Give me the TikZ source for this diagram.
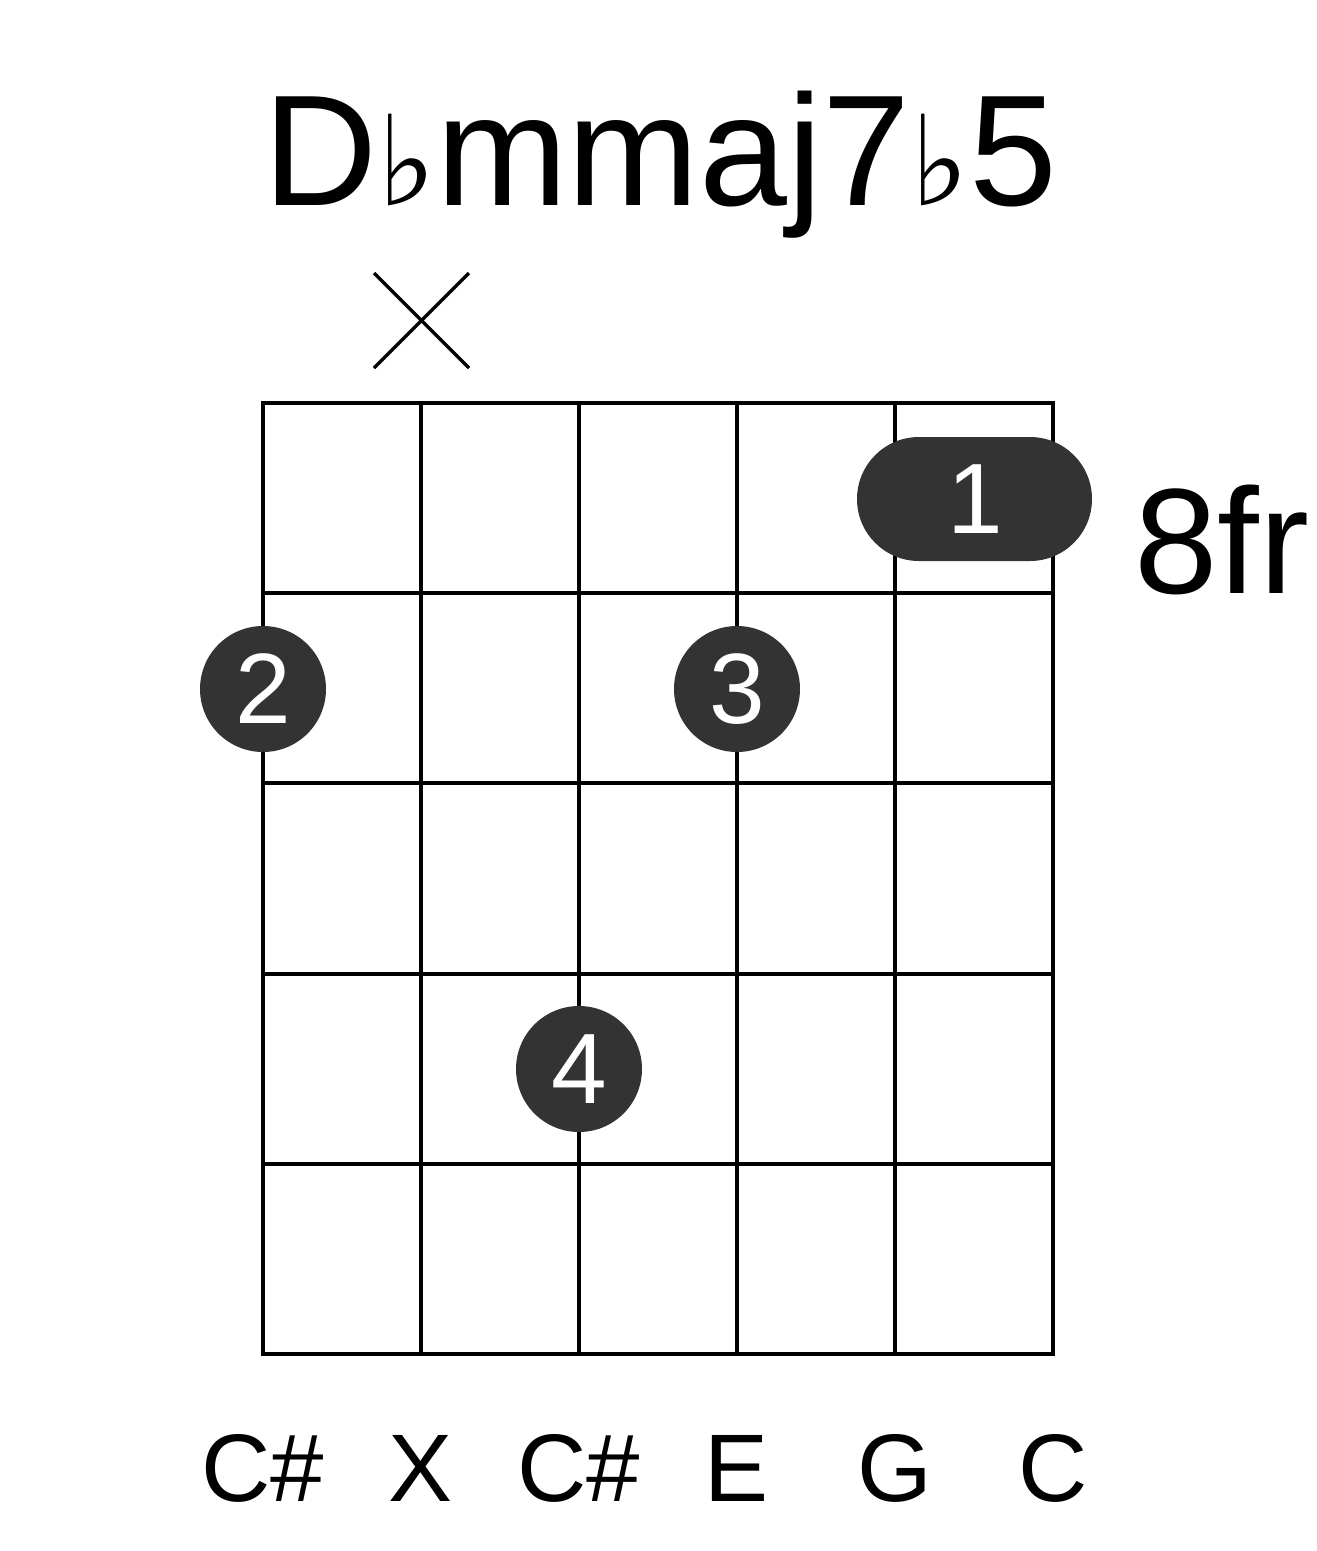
\documentclass[tikz,border=0pt]{standalone}
\usepackage{fontspec}
\setmainfont{Liberation Sans}
\newfontfamily\symfont{DejaVu Sans}
\usetikzlibrary{positioning}
\definecolor{dotgray}{HTML}{333333}
\begin{document}
\begin{tikzpicture}[x=1pt,y=-1pt,
    finger/.style={circle, fill=dotgray, minimum size=126pt, inner sep=0pt, text=white, font=\fontsize{100}{100}\selectfont},
    notename/.style={font=\fontsize{96}{100}\selectfont}]
    \useasboundingbox (0,0) rectangle (1317,1551);

    % grid
    \foreach \s in {0,...,5}
        \draw[line width=4pt] (263+\s*158,403) -- (263+\s*158,1354);
    \foreach \f in {0,...,5}
        \draw[line width=4pt] (261,403+\f*190.2) -- (1055,403+\f*190.2);

    % title
    \node (title) at (660,165) {\fontsize{158}{165}\selectfont D{\symfont\fontsize{125}{125}\selectfont\char"266D}mmaj7{\symfont\fontsize{125}{125}\selectfont\char"266D}5};

    % muted string
    \draw[line width=3.5pt] (374,273) -- (469,368);
    \draw[line width=3.5pt] (469,273) -- (374,368);

    % barre
    \fill[dotgray, rounded corners=62pt] (857,437) rectangle (1092,561);
    \node[text=white, font=\fontsize{100}{100}\selectfont] (barre) at (975,499) {1};
    \node[font=\fontsize{150}{150}\selectfont] (fret) at (1222,540) {8fr};

    % fingers
    \node[finger] (f2) at (263,689) {2};
    \node[finger] (f3) at (737,689) {3};
    \node[finger] (f4) at (579,1069) {4};

    % note names
    \node[notename] (n1) at (263,1468) {C\#};
    \node[notename] (n2) at (421,1468) {X};
    \node[notename] (n3) at (579,1468) {C\#};
    \node[notename] (n4) at (737,1468) {E};
    \node[notename] (n5) at (895,1468) {G};
    \node[notename] (n6) at (1053,1468) {C};
\end{tikzpicture}
\end{document}
